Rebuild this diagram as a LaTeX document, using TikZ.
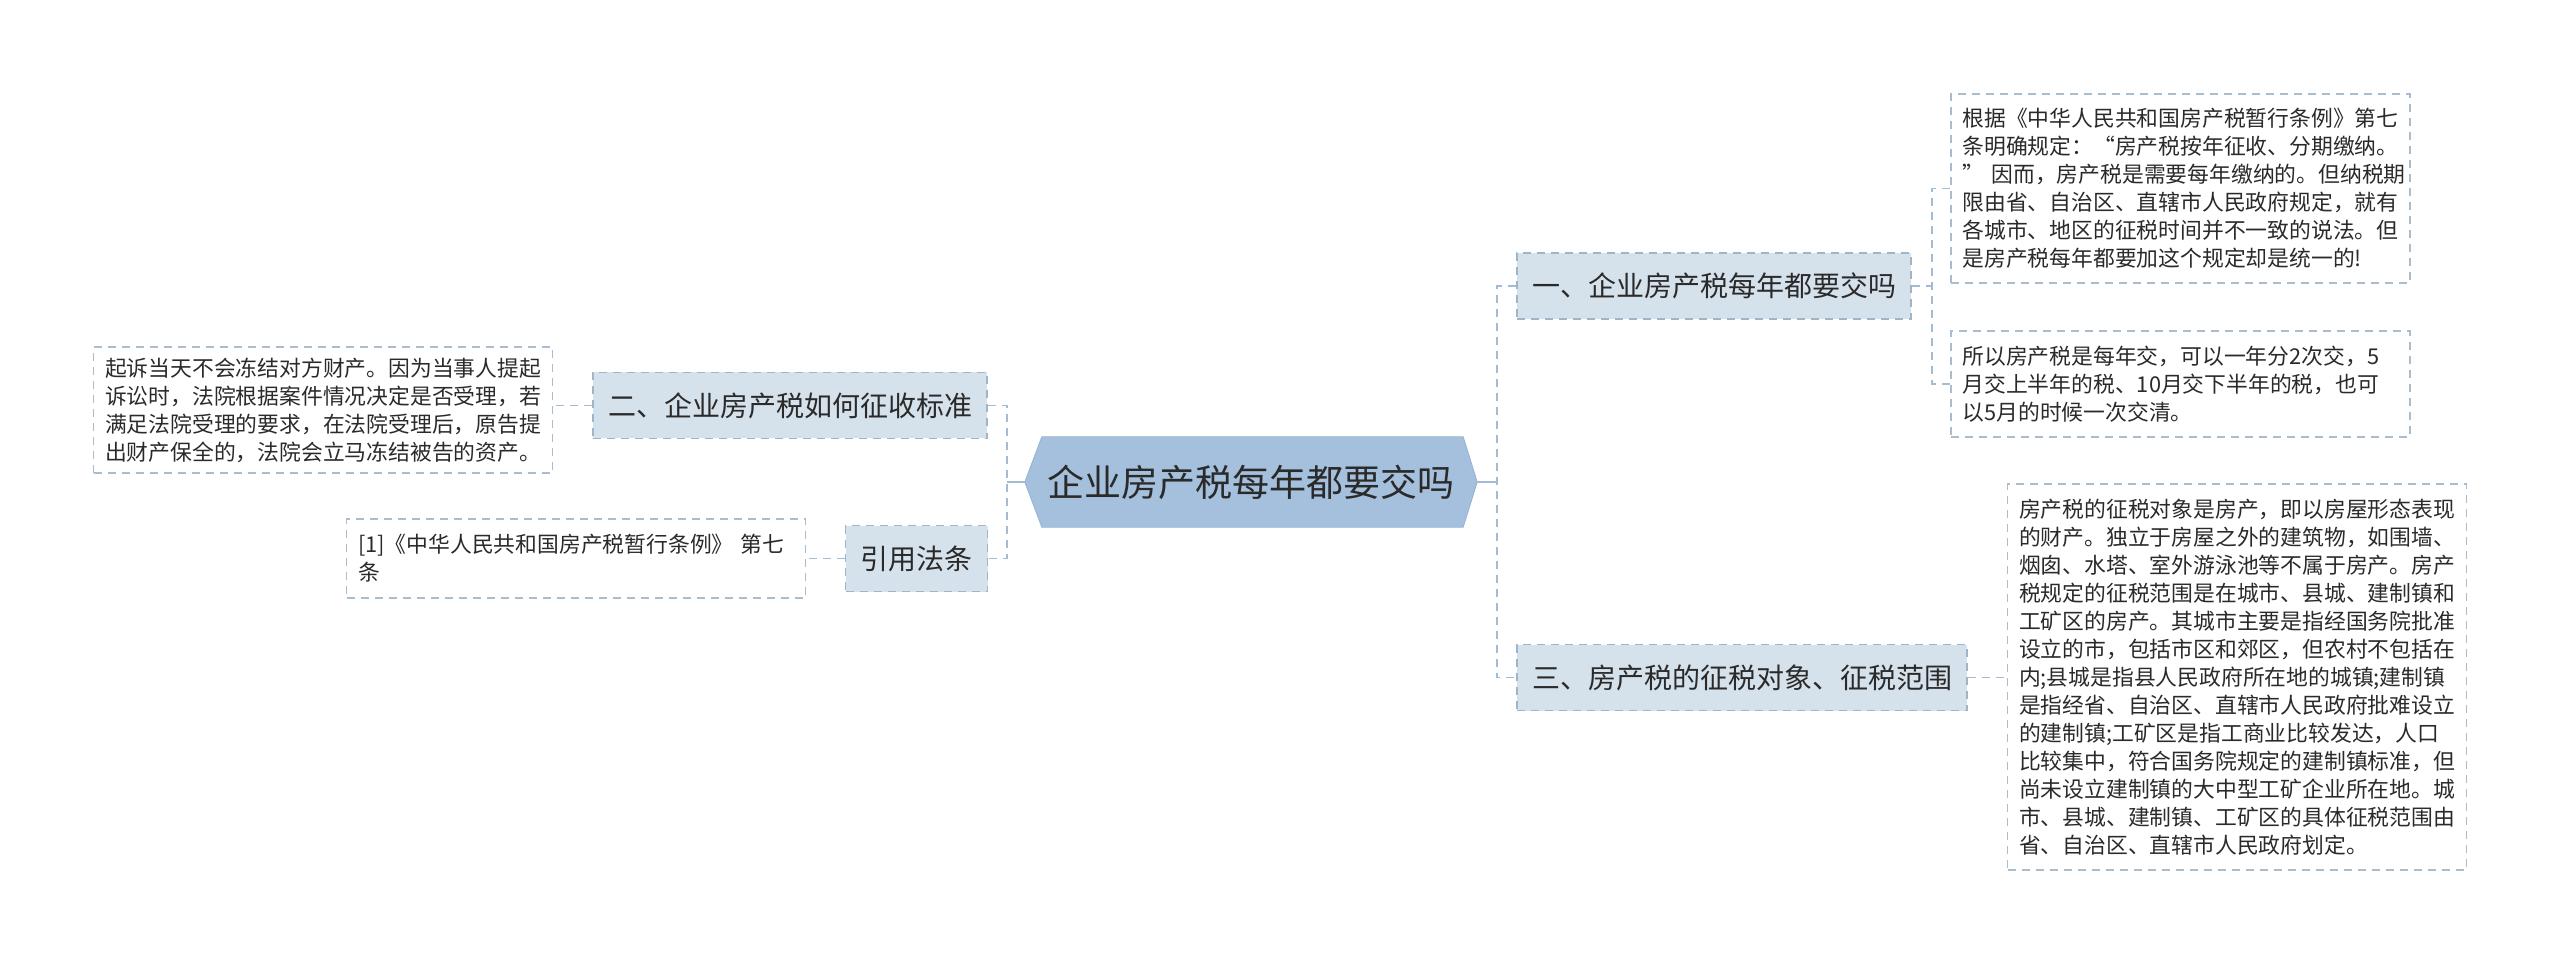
\documentclass[tikz,border=0pt]{standalone}
\usepackage{fontspec}
\setmainfont{Noto Sans CJK SC}
\usetikzlibrary{backgrounds}
\definecolor{cfill}{HTML}{A4C0DC}
\definecolor{cedge}{HTML}{94B3D3}
\definecolor{bfill}{HTML}{D5E1EB}
\definecolor{bline}{HTML}{9EB6CC}
\definecolor{lline}{HTML}{A9BDCE}
\definecolor{cline}{HTML}{A3BBD3}
\definecolor{txt}{HTML}{2A2A2A}
\tikzset{
  central/.style={minimum width=452pt, minimum height=90pt, inner sep=0pt,
    font=\fontsize{37}{44}\selectfont, text=txt},
  branch/.style={draw=bline, fill=bfill, line width=1.5pt, dash pattern=on 8pt off 6pt,
    minimum height=66pt, inner xsep=15pt, inner ysep=0pt,
    font=\fontsize{28}{34}\selectfont, text=txt},
  leaf/.style={draw=lline, line width=1.3pt, dash pattern=on 8pt off 6pt,
    align=left, text width=436pt, inner xsep=11.5pt, inner ysep=0pt,
    font=\fontsize{21.8}{28}\selectfont, text=txt},
  conn/.style={draw=cline, line width=1.5pt, dash pattern=on 8pt off 6pt},
  stub/.style={draw=cline, line width=2.2pt},
}
\begin{document}
\begin{tikzpicture}[x=1pt,y=-1pt]
\useasboundingbox (0,0) rectangle (2560,965);

% central
\node[central] (c) at (1251,482) {企业房产税每年都要交吗};
\begin{scope}[on background layer]
\fill[cfill, draw=cedge, line width=0.8pt] (c.west) -- ([xshift=17pt]c.north west) -- ([xshift=-14pt]c.north east)
  -- (c.east) -- ([xshift=-14pt]c.south east) -- ([xshift=17pt]c.south west) -- cycle;
\end{scope}

% branches
\node[branch] (b1) at (1714,286) {一、企业房产税每年都要交吗};
\node[branch] (b3) at (1742,677.5) {三、房产税的征税对象、征税范围};
\node[branch] (b2) at (790,405.5) {二、企业房产税如何征收标准};
\node[branch] (b4) at (916.5,558.5) {引用法条};

% leaves
\node[leaf, minimum height=189pt] (l1) at (2180.5,188.5) {根据《中华人民共和国房产税暂行条例》第七\\
条明确规定：“房产税按年征收、分期缴纳。\\
” 因而，房产税是需要每年缴纳的。但纳税期\\
限由省、自治区、直辖市人民政府规定，就有\\
各城市、地区的征税时间并不一致的说法。但\\
是房产税每年都要加这个规定却是统一的!};

\node[leaf, minimum height=106pt] (l2) at (2180.5,384) {所以房产税是每年交，可以一年分2次交，5\\
月交上半年的税、10月交下半年的税，也可\\
以5月的时候一次交清。};

\node[leaf, minimum height=386pt] (l3) at (2237,677) {房产税的征税对象是房产，即以房屋形态表现\\
的财产。独立于房屋之外的建筑物，如围墙、\\
烟囱、水塔、室外游泳池等不属于房产。房产\\
税规定的征税范围是在城市、县城、建制镇和\\
工矿区的房产。其城市主要是指经国务院批准\\
设立的市，包括市区和郊区，但农村不包括在\\
内;县城是指县人民政府所在地的城镇;建制镇\\
是指经省、自治区、直辖市人民政府批难设立\\
的建制镇;工矿区是指工商业比较发达，人口\\
比较集中，符合国务院规定的建制镇标准，但\\
尚未设立建制镇的大中型工矿企业所在地。城\\
市、县城、建制镇、工矿区的具体征税范围由\\
省、自治区、直辖市人民政府划定。};

\node[leaf, minimum height=126pt] (ll1) at (323,410) {起诉当天不会冻结对方财产。因为当事人提起\\
诉讼时，法院根据案件情况决定是否受理，若\\
满足法院受理的要求，在法院受理后，原告提\\
出财产保全的，法院会立马冻结被告的资产。};

\node[leaf, minimum height=79pt] (ll2) at (576,558.5) {[1]《中华人民共和国房产税暂行条例》 第七\\
条};

% junctions
\coordinate (rj) at (1497,482);
\coordinate (lj) at (1007,482);
\coordinate (j1) at (1932,286);

% connectors
\draw[stub] (c.east) -- (rj);
\draw[conn] (b1.west) -- (b1.west -| rj) -- (b3.west -| rj) -- (b3.west);
\draw[stub] (c.west) -- (lj);
\draw[conn] (b2.east) -- (b2.east -| lj) -- (b4.east -| lj) -- (b4.east);
\draw[conn] (b1.east) -- (j1);
\draw[conn] (l1.west) -- (l1.west -| j1) -- (l2.west -| j1) -- (l2.west);
\draw[conn] (b3.east) -- (b3.east -| l3.west);
\draw[conn] (b2.west) -- (b2.west -| ll1.east);
\draw[conn] (b4.west) -- (b4.west -| ll2.east);
\end{tikzpicture}
\end{document}
